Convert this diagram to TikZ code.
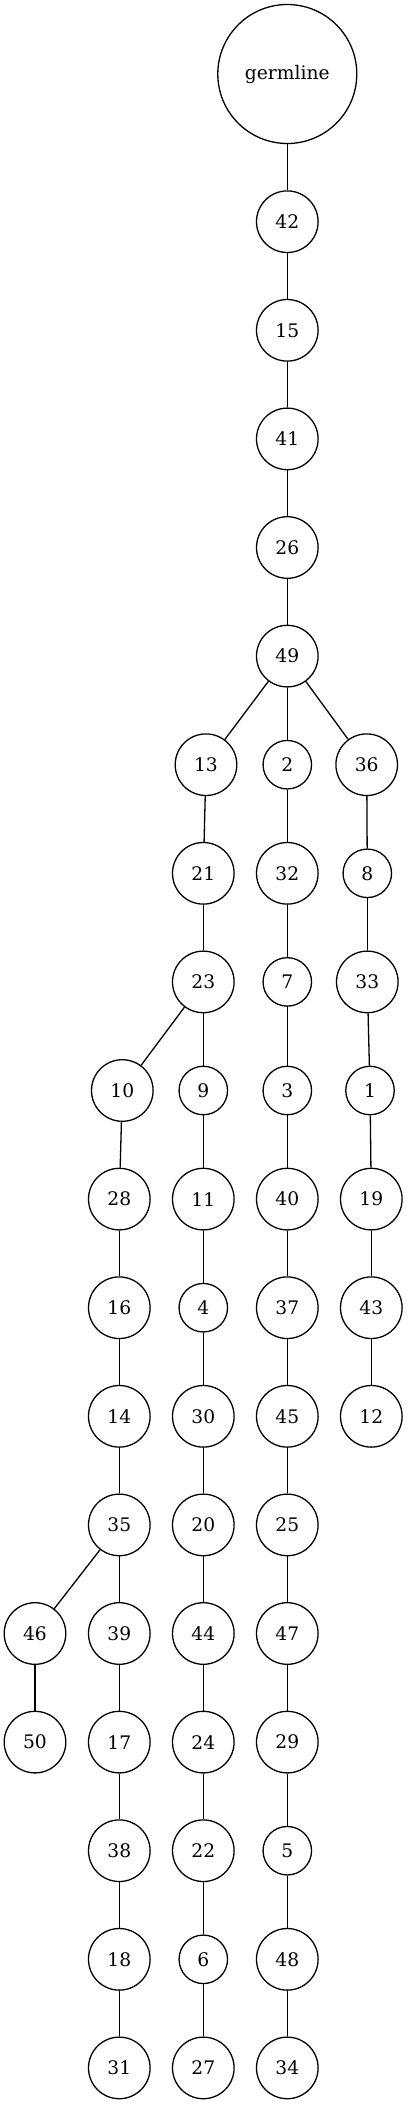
\documentclass[tikz,border=0pt]{standalone}
\usepackage{fontspec}
\setmainfont{DejaVu Serif}
\begin{document}
\begin{tikzpicture}[x=1pt,y=-1pt,line width=1.3pt,
  tn/.style={circle,draw,inner sep=0pt,minimum size=61.6pt,font=\fontsize{18.67}{22}\selectfont},
  sn/.style={tn,minimum size=48.5pt},
  gn/.style={tn,minimum size=139pt},
  edge/.style={draw,line width=1.3pt}]
\useasboundingbox (0,0) rectangle (407,2105);
% rows
\def\ra{221.7}\def\rb{330.3}\def\rc{438.9}\def\rd{547.5}\def\re{656.1}
\def\rf{764.7}\def\rg{873.3}\def\rh{981.9}\def\ri{1090.5}\def\rj{1199.1}
\def\rk{1307.7}\def\rl{1416.3}\def\rm{1524.9}\def\rn{1633.5}\def\ro{1742.1}
\def\rp{1850.7}\def\rq{1959.3}\def\rr{2067.9}
\node[gn] (g) at (287.3,74) {germline};
\node[tn] (n42) at (287.3,\ra) {42};
\node[tn] (n15) at (287.3,\rb) {15};
\node[tn] (n41) at (287.3,\rc) {41};
\node[tn] (n26) at (287.3,\rd) {26};
\node[tn] (n49) at (287.3,\re) {49};
\node[tn] (n13) at (206,\rf) {13};
\node[sn] (n2) at (287.3,\rf) {2};
\node[tn] (n36) at (366.7,\rf) {36};
\node[tn] (n21) at (203.3,\rg) {21};
\node[tn] (n32) at (287.3,\rg) {32};
\node[sn] (n8) at (367.3,\rg) {8};
\node[tn] (n23) at (203.3,\rh) {23};
\node[sn] (n7) at (287.3,\rh) {7};
\node[tn] (n33) at (367.3,\rh) {33};
\node[tn] (n10) at (122.3,\ri) {10};
\node[sn] (n9) at (203.3,\ri) {9};
\node[sn] (n3) at (287.3,\ri) {3};
\node[sn] (n1) at (370,\ri) {1};
\node[tn] (n28) at (119.3,\rj) {28};
\node[tn] (n11) at (203.3,\rj) {11};
\node[tn] (n40) at (287.3,\rj) {40};
\node[tn] (n19) at (371.3,\rj) {19};
\node[tn] (n16) at (119.3,\rk) {16};
\node[sn] (n4) at (203.3,\rk) {4};
\node[tn] (n37) at (287.3,\rk) {37};
\node[tn] (n43) at (371.3,\rk) {43};
\node[tn] (n14) at (119.3,\rl) {14};
\node[tn] (n30) at (203.3,\rl) {30};
\node[tn] (n45) at (287.3,\rl) {45};
\node[tn] (n12) at (371.3,\rl) {12};
\node[tn] (n35) at (119.3,\rm) {35};
\node[tn] (n20) at (203.3,\rm) {20};
\node[tn] (n25) at (287.3,\rm) {25};
\node[tn] (n46) at (35,\rn) {46};
\node[tn] (n39) at (119.3,\rn) {39};
\node[tn] (n44) at (203.3,\rn) {44};
\node[tn] (n47) at (287.3,\rn) {47};
\node[tn] (n50) at (35,\ro) {50};
\node[tn] (n17) at (119.3,\ro) {17};
\node[tn] (n24) at (203.3,\ro) {24};
\node[tn] (n29) at (287.3,\ro) {29};
\node[tn] (n38) at (119.3,\rp) {38};
\node[tn] (n22) at (203.3,\rp) {22};
\node[sn] (n5) at (287.3,\rp) {5};
\node[tn] (n18) at (119.3,\rq) {18};
\node[sn] (n6) at (203.3,\rq) {6};
\node[tn] (n48) at (287.3,\rq) {48};
\node[tn] (n31) at (119.3,\rr) {31};
\node[tn] (n27) at (203.3,\rr) {27};
\node[tn] (n34) at (287.3,\rr) {34};
\foreach \a/\b in {g/n42,n42/n15,n15/n41,n41/n26,n26/n49,
  n49/n13,n49/n2,n49/n36,
  n13/n21,n21/n23,n23/n10,n23/n9,
  n10/n28,n28/n16,n16/n14,n14/n35,n35/n46,n35/n39,n46/n50,
  n39/n17,n17/n38,n38/n18,n18/n31,
  n9/n11,n11/n4,n4/n30,n30/n20,n20/n44,n44/n24,n24/n22,n22/n6,n6/n27,
  n2/n32,n32/n7,n7/n3,n3/n40,n40/n37,n37/n45,n45/n25,n25/n47,n47/n29,n29/n5,n5/n48,n48/n34,
  n36/n8,n8/n33,n33/n1,n1/n19,n19/n43,n43/n12}
  \draw[edge] (\a) -- (\b);
\end{tikzpicture}
\end{document}
